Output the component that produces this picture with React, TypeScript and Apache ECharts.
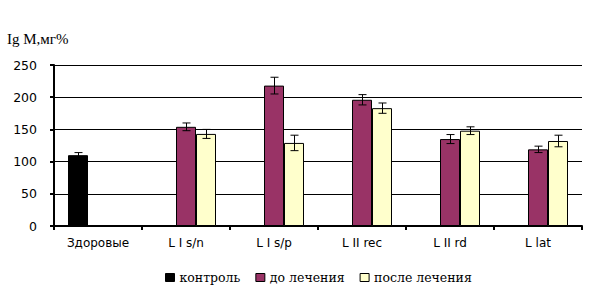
import React, { useEffect, useRef } from "react";
import * as echarts from "echarts";

const categories = ["Здоровые", "L I s/n", "L I s/p", "L II rec", "L II rd", "L lat"];
const seriesNames = ["контроль", "до лечения", "после лечения"];
const controlValues = [110, null, null, null, null, null];
const controlErr = [4, null, null, null, null, null];
const beforeValues = [null, 154, 218, 196, 135, 119];
const beforeErr = [null, 6, 13, 8, 7, 5];
const afterValues = [null, 143, 129, 183, 148, 132];
const afterErr = [null, 7, 12, 8, 6, 9];
const colors = ["#000000", "#993366", "#FFFFCC"];
const yTicks = { min: 0, max: 250, interval: 50 };

export default function App() {
  const ref = useRef<HTMLDivElement>(null);
  useEffect(() => {
    const chart = echarts.init(ref.current!, null, { renderer: "svg" });
    const valuesList = [controlValues, beforeValues, afterValues];
    const errList = [controlErr, beforeErr, afterErr];
    const barW = 20;

    const barSeries = valuesList.map((vals, i) => ({
      type: "bar",
      name: seriesNames[i],
      data: vals,
      barWidth: barW,
      barGap: "0%",
      itemStyle: { color: colors[i], borderColor: "#000", borderWidth: 1 },
      z: 2,
    }));

    const errSeries = valuesList.map((vals, i) => ({
      type: "custom",
      name: "err" + i,
      data: vals
        .map((v, k) => (v == null ? null : [k, v, errList[i][k]]))
        .filter((d) => d != null),
      z: 5,
      silent: true,
      renderItem: (params: any, api: any) => {
        const k = api.value(0);
        const v = api.value(1);
        const e = api.value(2);
        const top = api.coord([k, v + e]);
        const bot = api.coord([k, v - e]);
        const x = Math.round(top[0] + (i - 1) * barW) + 0.5;
        const cap = 4;
        const st = { stroke: "#000", lineWidth: 1 };
        return {
          type: "group",
          children: [
            { type: "line", shape: { x1: x, y1: top[1], x2: x, y2: bot[1] }, style: st },
            { type: "line", shape: { x1: x - cap, y1: top[1], x2: x + cap, y2: top[1] }, style: st },
            { type: "line", shape: { x1: x - cap, y1: bot[1], x2: x + cap, y2: bot[1] }, style: st },
          ],
        };
      },
    }));

    chart.setOption({
      animation: false,
      grid: { left: 54, right: 16, top: 65, bottom: 70 },
      graphic: [
        {
          type: "text",
          left: 7,
          top: 31,
          style: { text: "Ig M,мг%", font: "15px 'Liberation Serif'", fill: "#000" },
        },
      ],
      legend: {
        data: seriesNames,
        left: 165,
        top: 271,
        padding: 0,
        icon: "rect",
        itemWidth: 9,
        itemHeight: 8,
        itemGap: 15,
        itemStyle: { borderColor: "#000", borderWidth: 1 },
        textStyle: { fontFamily: "DejaVu Serif", fontSize: 12.5, color: "#000" },
      },
      xAxis: {
        type: "category",
        data: categories,
        axisLine: { lineStyle: { color: "#000", width: 2 } },
        axisTick: { show: true, length: 4, lineStyle: { color: "#000", width: 2 } },
        axisLabel: { fontFamily: "DejaVu Sans", fontSize: 12, color: "#000", margin: 11 },
      },
      yAxis: {
        type: "value",
        min: yTicks.min,
        max: yTicks.max,
        interval: yTicks.interval,
        axisLine: { show: true, lineStyle: { color: "#000", width: 2 } },
        axisTick: { show: true, length: 4, lineStyle: { color: "#000", width: 2 } },
        splitLine: { lineStyle: { color: "#000", width: 1 } },
        axisLabel: { fontFamily: "DejaVu Sans", fontSize: 12.5, color: "#000", margin: 17 },
      },
      series: [...barSeries, ...errSeries],
    });
    return () => chart.dispose();
  }, []);
  return <div ref={ref} style={{ width: 598, height: 296, position: "absolute", left: 0, top: 0 }} />;
}
